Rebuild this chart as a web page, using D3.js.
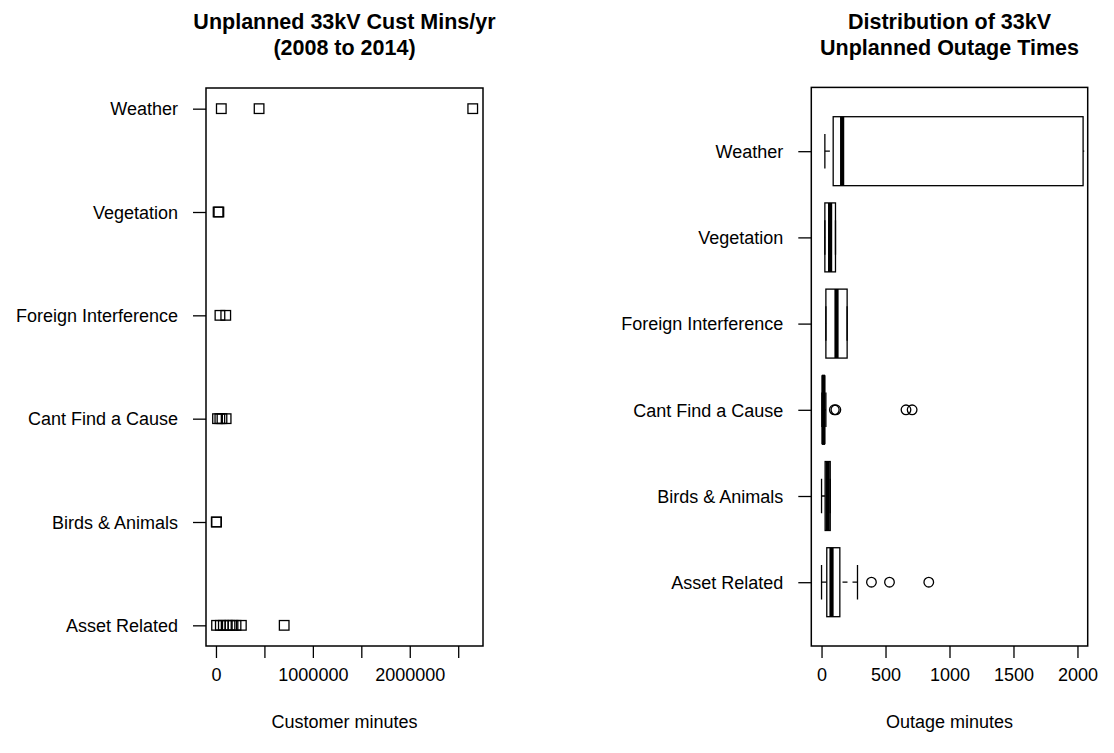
<!DOCTYPE html>
<html>
<head>
<meta charset="utf-8">
<script src="https://cdn.jsdelivr.net/npm/d3@7"></script>
<style>
  body { margin: 0; background: #fff; }
  text { font-family: "Liberation Sans", Arial, Helvetica, sans-serif; fill: #000; }
</style>
</head>
<body>
<div id="chart"></div>
<script>
// causes, bottom to top (same order as the y axis)
const causes = ["Asset Related", "Birds & Animals", "Cant Find a Cause",
                "Foreign Interference", "Vegetation", "Weather"];

// customer minutes per year, one array per cause
const custMinsAsset = [6000, 45000, 76000, 117000, 145000, 176000, 207000, 262000, 704000];
const custMinsBirds = [3000, 6000];
const custMinsCantFind = [16000, 40000, 62000, 105000];
const custMinsForeign = [41000, 101000];
const custMinsVegetation = [22000, 30000];
const custMinsWeather = [55000, 445000, 2650000];
const custMins = [custMinsAsset, custMinsBirds, custMinsCantFind,
                  custMinsForeign, custMinsVegetation, custMinsWeather];

const custTicks = [0, 500000, 1000000, 1500000, 2000000, 2500000];
const custTickLabels = ["0", "", "1000000", "", "2000000", ""];

// boxplot stats of outage minutes, same order as causes
const whiskerLow  = [0,   0,  3,  34,  26,   26];
const boxQ1       = [41, 28,  8,  34,  26,   91];
const boxMedian   = [78, 48, 15, 117,  67,  161];
const boxQ3       = [143, 68, 22, 200, 109, 2044];
const whiskerHigh = [281, 68, 34, 200, 109, 2600];
const outliersAsset = [390, 531, 838];
const outliersCantFind = [100, 112, 660, 708];
const outageOutliers = [outliersAsset, [], outliersCantFind, [], [], []];

const outageTicks = [0, 500, 1000, 1500, 2000];
const outageLimits = [0, 2000];

const width = 1114, height = 753;

const svg = d3.select('#chart')
    .append('svg')
    .attr('width', width)
    .attr('height', height);

// ---------- left panel: strip chart ----------
const left = {x0: 206, x1: 483, y0: 88, y1: 646};

const allMins = custMins.flat();
const ext = d3.extent(allMins);
const pad = (ext[1] - ext[0]) * 0.04;
const xCust = d3.scaleLinear()
    .domain([ext[0] - pad, ext[1] + pad])
    .range([left.x0, left.x1]);
const yCust = d3.scaleLinear()
    .domain([0.8, 6.2])
    .range([left.y1, left.y0]);

const pts = [];
custMins.forEach((vals, i) => vals.forEach(v => pts.push({cause: i + 1, value: v})));

svg.append('g')
    .selectAll('rect')
    .data(pts)
    .enter()
    .append('rect')
    .attr('x', d => xCust(d.value) - 4.8)
    .attr('y', d => yCust(d.cause) - 4.8)
    .attr('width', 9.6)
    .attr('height', 9.6)
    .style('fill', 'none')
    .style('stroke', '#000')
    .style('stroke-width', 1.3);

drawAxes(xCust, yCust, left, custTicks, (d, i) => custTickLabels[i]);
drawFrame(left);
drawTitle(left, ["Unplanned 33kV Cust Mins/yr", "(2008 to 2014)"], "Customer minutes");

// ---------- right panel: horizontal box plot ----------
const right = {x0: 811.3, x1: 1087.7, y0: 87.4, y1: 646};

const lim = outageLimits[1] - outageLimits[0];
const xOut = d3.scaleLinear()
    .domain([outageLimits[0] - lim * 0.04, outageLimits[1] + lim * 0.04])
    .range([right.x0, right.x1]);
const yOut = d3.scaleLinear()
    .domain([0.26, 6.74])
    .range([right.y1, right.y0]);

svg.append('clipPath')
    .attr('id', 'clipRight')
    .append('rect')
    .attr('x', right.x0)
    .attr('y', right.y0)
    .attr('width', right.x1 - right.x0)
    .attr('height', right.y1 - right.y0);

const boxes = causes.map((c, i) => ({
    pos: i + 1,
    lo: whiskerLow[i], q1: boxQ1[i], med: boxMedian[i], q3: boxQ3[i], hi: whiskerHigh[i],
    out: outageOutliers[i]
}));

const bp = svg.append('g').attr('clip-path', 'url(#clipRight)');

const grp = bp.selectAll('g.box')
    .data(boxes)
    .enter()
    .append('g')
    .attr('class', 'box');

// whiskers (dashed), drawn from the ends toward the box
grp.selectAll('line.whisker')
    .data(d => [[d.lo, d.q1, d.pos], [d.hi, d.q3, d.pos]])
    .enter()
    .append('line')
    .attr('x1', d => xOut(d[0]))
    .attr('x2', d => xOut(d[1]))
    .attr('y1', d => yOut(d[2]))
    .attr('y2', d => yOut(d[2]))
    .style('stroke', '#000')
    .style('stroke-width', 1.3)
    .style('stroke-dasharray', '5,5');

// staples
grp.selectAll('line.staple')
    .data(d => [[d.lo, d.pos], [d.hi, d.pos]])
    .enter()
    .append('line')
    .attr('x1', d => xOut(d[0]))
    .attr('x2', d => xOut(d[0]))
    .attr('y1', d => yOut(d[1] - 0.2))
    .attr('y2', d => yOut(d[1] + 0.2))
    .style('stroke', '#000')
    .style('stroke-width', 1.3);

grp.append('rect')
    .attr('x', d => xOut(d.q1))
    .attr('y', d => yOut(d.pos + 0.4))
    .attr('width', d => xOut(d.q3) - xOut(d.q1))
    .attr('height', d => yOut(d.pos - 0.4) - yOut(d.pos + 0.4))
    .style('fill', 'none')
    .style('stroke', '#000')
    .style('stroke-width', 1.3);

grp.append('line')
    .attr('x1', d => xOut(d.med))
    .attr('x2', d => xOut(d.med))
    .attr('y1', d => yOut(d.pos + 0.4))
    .attr('y2', d => yOut(d.pos - 0.4))
    .style('stroke', '#000')
    .style('stroke-width', 4.2);

grp.selectAll('circle')
    .data(d => d.out.map(v => ({v: v, pos: d.pos})))
    .enter()
    .append('circle')
    .attr('cx', d => xOut(d.v))
    .attr('cy', d => yOut(d.pos))
    .attr('r', 4.8)
    .style('fill', 'none')
    .style('stroke', '#000')
    .style('stroke-width', 1.3);

drawAxes(xOut, yOut, right, outageTicks, d => d);
drawFrame(right);
drawTitle(right, ["Distribution of 33kV", "Unplanned Outage Times"], "Outage minutes");

// ---------- helpers ----------
function drawAxes(x, y, box, xTicks, xFormat) {
    const gx = svg.append('g')
        .attr('transform', `translate(0,${box.y1})`)
        .call(d3.axisBottom(x).tickValues(xTicks).tickFormat(xFormat).tickSize(12).tickPadding(0));
    gx.select('.domain').remove();
    gx.selectAll('line').style('stroke', '#000').style('stroke-width', 1.3);
    gx.selectAll('text')
        .attr('y', 35)
        .attr('dy', null)
        .style('font-size', '18px')
        .style('font-family', '"Liberation Sans", Arial, sans-serif');

    const gy = svg.append('g')
        .attr('transform', `translate(${box.x0},0)`)
        .call(d3.axisLeft(y).tickValues([1, 2, 3, 4, 5, 6]).tickFormat(d => causes[d - 1]).tickSize(13).tickPadding(15));
    gy.select('.domain').remove();
    gy.selectAll('line').style('stroke', '#000').style('stroke-width', 1.3);
    gy.selectAll('text')
        .attr('dy', '0.35em')
        .style('font-size', '18px')
        .style('font-family', '"Liberation Sans", Arial, sans-serif');
}

function drawFrame(box) {
    svg.append('rect')
        .attr('x', box.x0)
        .attr('y', box.y0)
        .attr('width', box.x1 - box.x0)
        .attr('height', box.y1 - box.y0)
        .style('fill', 'none')
        .style('stroke', '#000')
        .style('stroke-width', 1.5);
}

function drawTitle(box, lines, xlab) {
    const cx = (box.x0 + box.x1) / 2;
    svg.append('g')
        .selectAll('text')
        .data(lines)
        .enter()
        .append('text')
        .attr('x', cx)
        .attr('y', (d, i) => 29 + i * 26)
        .attr('text-anchor', 'middle')
        .style('font-size', '21.5px')
        .style('font-weight', 'bold')
        .text(d => d);

    svg.append('text')
        .attr('x', cx)
        .attr('y', 728)
        .attr('text-anchor', 'middle')
        .style('font-size', '18px')
        .text(xlab);
}
</script>
</body>
</html>
